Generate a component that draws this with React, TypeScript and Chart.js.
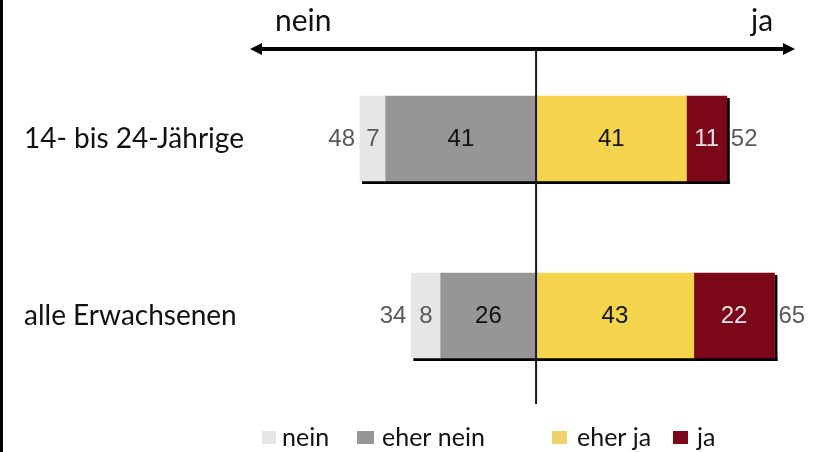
import React, { useEffect, useRef } from "react";
import { Chart, registerables } from "chart.js";

Chart.register(...registerables);

const categories = ["14- bis 24-Jährige", "alle Erwachsenen"];
const seriesNames = ["nein", "eher nein", "eher ja", "ja"];
const nein = [7, 8];
const eherNein = [41, 26];
const eherJa = [41, 43];
const ja = [11, 22];
const totalNein = [48, 34];
const totalJa = [52, 65];

const colors = ["#e6e6e6", "#969696", "#f4d44d", "#7b0719"];
const legendColors = ["#e6e6e6", "#969696", "#edd36a", "#7b0719"];
const labelColors = ["#595959", "#111111", "#111111", "#e6e6e6"];

const TEXT_FONT = "Lato, 'Open Sans', sans-serif";
const NUM_FONT = "'Liberation Sans', Arial, sans-serif";

export default function App() {
  const ref = useRef<HTMLCanvasElement>(null);

  useEffect(() => {
    document.body.style.margin = "0";
    const canvas = ref.current!;
    const overlay = {
      id: "overlay",
      beforeDatasetsDraw(chart: any) {
        const ctx = chart.ctx;
        const xs = chart.scales.x;
        const meta0 = chart.getDatasetMeta(1);
        ctx.save();
        ctx.fillStyle = "#000";
        categories.forEach((_, i) => {
          const el = meta0.data[i] as any;
          const left = xs.getPixelForValue(-(nein[i] + eherNein[i]));
          const right = xs.getPixelForValue(eherJa[i] + ja[i]);
          const top = el.y - el.height / 2;
          const bottom = el.y + el.height / 2;
          ctx.fillRect(left + 2, bottom, right - left + 1, 3);
          ctx.fillRect(right, top + 2, 3, bottom - top + 1);
        });
        ctx.restore();
      },
      afterDatasetsDraw(chart: any) {
        const ctx = chart.ctx;
        const xs = chart.scales.x;
        const area = chart.chartArea;
        const zero = xs.getPixelForValue(0);
        ctx.save();
        ctx.fillStyle = "#000";
        ctx.fillRect(0, 0, 3, chart.height);
        ctx.strokeStyle = "#1a1a1a";
        ctx.lineWidth = 2;
        ctx.beginPath();
        ctx.moveTo(zero, area.top);
        ctx.lineTo(zero, area.bottom);
        ctx.stroke();
        const ay = area.top - 1;
        ctx.lineWidth = 4;
        ctx.strokeStyle = "#000";
        ctx.beginPath();
        ctx.moveTo(area.left + 8, ay);
        ctx.lineTo(area.right - 8, ay);
        ctx.stroke();
        ctx.beginPath();
        ctx.moveTo(area.left, ay);
        ctx.lineTo(area.left + 12, ay - 6);
        ctx.lineTo(area.left + 12, ay + 6);
        ctx.closePath();
        ctx.moveTo(area.right, ay);
        ctx.lineTo(area.right - 12, ay - 6);
        ctx.lineTo(area.right - 12, ay + 6);
        ctx.closePath();
        ctx.fill();
        ctx.font = `30px ${TEXT_FONT}`;
        ctx.textBaseline = "alphabetic";
        ctx.textAlign = "left";
        ctx.fillStyle = "#111";
        ctx.fillText("nein", 275, 31);
        ctx.fillText("ja", 751, 31);
        ctx.font = `24px ${NUM_FONT}`;
        ctx.textBaseline = "middle";
        const order = [1, 0, 2, 3];
        chart.data.datasets.forEach((ds: any, di: number) => {
          const meta = chart.getDatasetMeta(di);
          meta.data.forEach((el: any, i: number) => {
            const v = Math.abs(ds.data[i]);
            const cx = (el.x + el.base) / 2;
            ctx.textAlign = "center";
            ctx.fillStyle = labelColors[order[di]];
            ctx.fillText(String(v), cx, el.y + 1);
          });
        });
        ctx.fillStyle = "#595959";
        categories.forEach((_, i) => {
          const el = chart.getDatasetMeta(0).data[i] as any;
          const left = xs.getPixelForValue(-(nein[i] + eherNein[i]));
          const right = xs.getPixelForValue(eherJa[i] + ja[i]);
          ctx.textAlign = "right";
          ctx.fillText(String(totalNein[i]), left - 5, el.y + 1);
          ctx.textAlign = "left";
          ctx.fillText(String(totalJa[i]), right + 4, el.y + 1);
        });
        const ly = 437;
        const items = [
          { sx: 262, sw: 14, tx: 282 },
          { sx: 357, sw: 17, tx: 382 },
          { sx: 552, sw: 15, tx: 577 },
          { sx: 673, sw: 15, tx: 697 },
        ];
        ctx.font = `25px ${TEXT_FONT}`;
        ctx.textAlign = "left";
        ctx.textBaseline = "middle";
        items.forEach((it, k) => {
          ctx.fillStyle = legendColors[k];
          ctx.fillRect(it.sx, ly - 6, it.sw, 13);
          ctx.fillStyle = "#111";
          ctx.fillText(seriesNames[k], it.tx, ly + 1);
        });
        ctx.restore();
      },
    };

    const chart = new Chart(canvas, {
      type: "bar",
      data: {
        labels: categories,
        datasets: [
          { label: seriesNames[1], data: eherNein.map((v) => -v), backgroundColor: colors[1] },
          { label: seriesNames[0], data: nein.map((v) => -v), backgroundColor: colors[0] },
          { label: seriesNames[2], data: eherJa, backgroundColor: colors[2] },
          { label: seriesNames[3], data: ja, backgroundColor: colors[3] },
        ],
      },
      options: {
        indexAxis: "y",
        animation: false,
        responsive: false,
        maintainAspectRatio: false,
        layout: { padding: { left: 24, right: 28, top: 50, bottom: 48 } },
        datasets: { bar: { barThickness: 85, borderWidth: 0 } },
        scales: {
          x: { stacked: true, display: false, min: -78, max: 70.6 },
          y: {
            stacked: true,
            grid: { display: false },
            border: { display: false },
            afterFit: (s: any) => {
              s.width = 226;
            },
            ticks: {
              crossAlign: "far",
              padding: 0,
              color: "#111",
              font: { family: TEXT_FONT, size: 28 },
            },
          },
        },
        plugins: { legend: { display: false }, tooltip: { enabled: false } },
      },
      plugins: [overlay],
    });
    return () => chart.destroy();
  }, []);

  return (
    <div style={{ position: "relative", width: 823, height: 452 }}>
      <canvas ref={ref} width={823} height={452} style={{ display: "block" }} />
    </div>
  );
}
